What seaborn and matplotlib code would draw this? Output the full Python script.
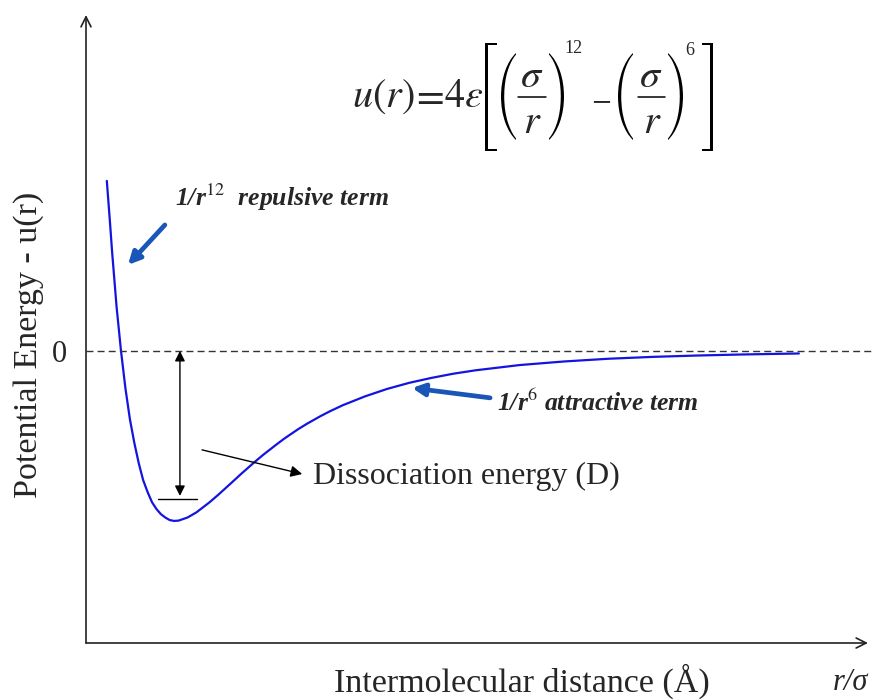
import os
import numpy as np
import pandas as pd
import matplotlib
matplotlib.use("Agg")
import matplotlib.pyplot as plt
import seaborn as sns
from matplotlib.textpath import TextPath
from matplotlib.patches import PathPatch
from matplotlib.font_manager import FontProperties
from matplotlib.transforms import Affine2D
from matplotlib.lines import Line2D

# Values (x in r/sigma, y in u/epsilon)
r_sigma = [0.968, 0.975, 0.98, 0.99, 1.00, 1.01, 1.02, 1.03, 1.04, 1.05, 1.06, 1.07,
           1.08, 1.09, 1.10, 1.11, 1.12, 1.13, 1.15, 1.17, 1.20, 1.22, 1.25, 1.27,
           1.30, 1.32, 1.35, 1.37, 1.40, 1.42, 1.45, 1.47, 1.50, 1.55, 1.60, 1.65,
           1.70, 1.75, 1.80, 1.90, 2.00, 2.10, 2.20, 2.30, 2.40, 2.53]
energy = [1.00, 0.76, 0.58, 0.26, 0.00, -0.22, -0.40, -0.54, -0.66, -0.76, -0.83, -0.89,
          -0.93, -0.96, -0.98, -0.995, -1.00, -0.998, -0.98, -0.95, -0.89, -0.845, -0.774, -0.726,
          -0.657, -0.613, -0.552, -0.513, -0.460, -0.428, -0.384, -0.357, -0.320, -0.268, -0.224, -0.188,
          -0.159, -0.134, -0.114, -0.083, -0.062, -0.046, -0.035, -0.027, -0.021, -0.015]
zero_tick = [0]
zero_tick_label = ["0"]

df = pd.DataFrame({"r": r_sigma, "u": energy})

sns.set_theme(style="white")
plt.rcParams["font.family"] = ["Liberation Serif", "DejaVu Serif"]
plt.rcParams["mathtext.fontset"] = "stix"

W, H = 872, 700
fig = plt.figure(figsize=(W / 100, H / 100), dpi=100)
ax = fig.add_axes([86 / W, 57 / H, 782 / W, 628 / H])

sns.lineplot(data=df, x="r", y="u", ax=ax, color="#1414e0", linewidth=1.6,
             sort=False, estimator=None)

ax.set_xlim(0.921, 2.686)
ax.set_ylim(-1.718, 1.976)

for s in ax.spines.values():
    s.set_visible(False)

# arrow axes
ax.annotate("", xy=(0, 1), xytext=(0, 0), xycoords="axes fraction",
            arrowprops=dict(arrowstyle="->", color="#222222", lw=1.2,
                            mutation_scale=18, shrinkA=0, shrinkB=0))
ax.annotate("", xy=(1, 0), xytext=(0, 0), xycoords="axes fraction",
            arrowprops=dict(arrowstyle="->", color="#222222", lw=1.2,
                            mutation_scale=18, shrinkA=0, shrinkB=0))

# zero line
ax.axhline(0, color="#333333", lw=1.0, ls=(0, (5, 3)), xmax=1.01, clip_on=False)

ax.set_xticks([])
ax.set_yticks(zero_tick)
ax.set_yticklabels(zero_tick_label, fontsize=22)
ax.tick_params(axis="y", length=0, pad=14)
ax.tick_params(axis="x", length=0)
for t in ax.get_yticklabels():
    t.set_va("center_baseline")

ax.set_ylabel("Potential Energy - u(r)", fontsize=24.5)
ax.yaxis.set_label_coords(-0.054, 0.475)
ax.set_xlabel("Intermolecular distance (Å)", fontsize=24.5, va="center")
ax.xaxis.set_label_coords(0.5575, -0.061)
ax.text(0.977, -0.063, "r/σ", transform=ax.transAxes, fontsize=22,
        style="italic", ha="center", va="center")

# ---- formula, built from pieces positioned in figure pixels ----
def fx(px):
    return px / W

def fy(py):
    return 1 - py / H

stix_big = os.path.join(matplotlib.get_data_path(), "fonts", "ttf", "STIXSizFourSymReg.ttf")
if os.path.exists(stix_big):
    delim_prop = FontProperties(fname=stix_big)
else:
    delim_prop = FontProperties(family="Liberation Serif")

def delim(ch, x0, x1, y0, y1):
    path = TextPath((0, 0), ch, size=1, prop=delim_prop)
    ext = path.get_extents()
    sx = (x1 - x0) / ext.width
    sy = (y1 - y0) / ext.height
    tr = Affine2D().translate(-ext.x0, -ext.y0).scale(sx, sy).translate(x0, H - y1)
    fig.add_artist(PathPatch(path, transform=tr, facecolor="black", lw=0))

def bar(x0, x1, y):
    fig.add_artist(Line2D([fx(x0), fx(x1)], [fy(y), fy(y)], color="black", lw=1.1,
                          transform=fig.transFigure))

def piece(s, x, y, size=29, va="baseline"):
    fig.text(fx(x), fy(y), s, fontsize=size, ha="center", va=va)

piece(r"$u(r)$", 383, 107)
piece(r"$=$", 428, 107)
piece(r"$4\varepsilon$", 464, 107)
delim("[", 485, 497, 43, 151)
delim("(", 501, 516, 53, 140)
piece(r"$\sigma$", 532, 87)
bar(518, 546, 97)
piece(r"$r$", 532, 133)
delim(")", 549, 564, 53, 140)
piece("12", 573, 53, size=13)
piece(r"$-$", 601, 97, size=21, va="center_baseline")
delim("(", 618, 633, 53, 140)
piece(r"$\sigma$", 651, 87)
bar(638, 665, 97)
piece(r"$r$", 652, 133)
delim(")", 668, 683, 53, 140)
piece("6", 690, 55, size=13)
delim("]", 702, 713, 43, 151)

# dissociation energy arrows
ax.annotate("", xy=(1.133, -0.853), xytext=(1.133, 0.0),
            arrowprops=dict(arrowstyle="<|-|>", color="black", lw=1.0,
                            mutation_scale=15, shrinkA=0, shrinkB=0))
ax.plot([1.0835, 1.1716], [-0.871, -0.871], color="black", lw=1.0)
ax.annotate("", xy=(1.409, -0.724), xytext=(1.183, -0.582),
            arrowprops=dict(arrowstyle="-|>", color="black", lw=1.0,
                            mutation_scale=17, shrinkA=0, shrinkB=0))
ax.text(1.433, -0.741, "Dissociation energy (D)", fontsize=23, ha="left", va="center")

# blue arrows and terms
ax.annotate("", xy=(1.0158, 0.506), xytext=(1.099, 0.741),
            arrowprops=dict(arrowstyle="-|>", color="#1a55b8", lw=3.4,
                            mutation_scale=18, shrinkA=0, shrinkB=0))
ax.annotate("", xy=(1.657, -0.218), xytext=(1.833, -0.276),
            arrowprops=dict(arrowstyle="-|>", color="#1a55b8", lw=3.4,
                            mutation_scale=18, shrinkA=0, shrinkB=0))
ax.text(1.122, 0.906, r"1/r$^{12}$  repulsive term", fontsize=18.5, fontweight="bold",
        style="italic", ha="left", va="center")
ax.text(1.849, -0.306, r"1/r$^{6}$ attractive term", fontsize=18.5, fontweight="bold",
        style="italic", ha="left", va="center")

fig.savefig("out.png", dpi=100)
